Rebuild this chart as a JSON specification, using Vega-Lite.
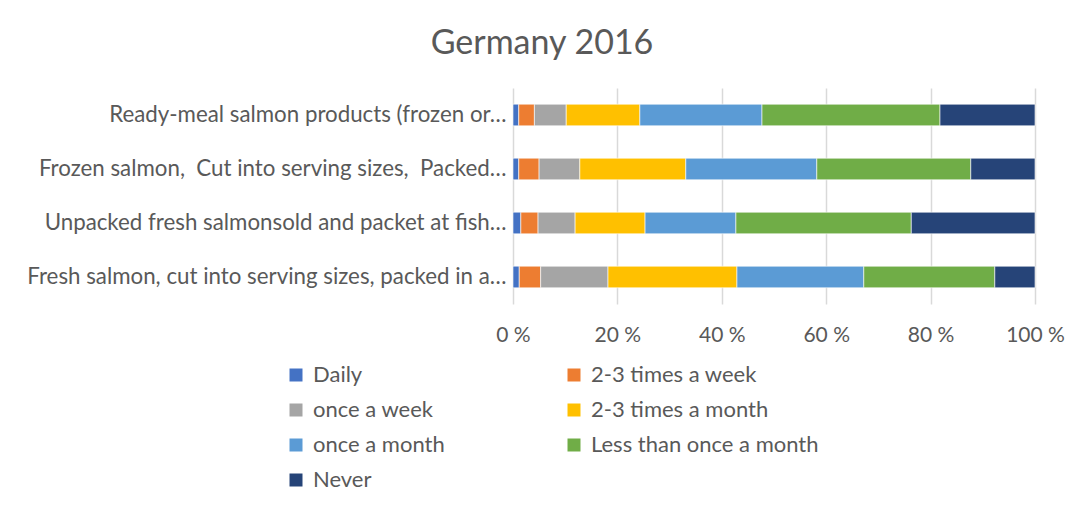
{
  "$schema": "https://vega.github.io/schema/vega-lite/v6.json",
  "autosize": {"type": "none"},
  "width": 522,
  "height": 216,
  "padding": {"left": 513, "top": 88, "right": 48, "bottom": 218},
  "background": "white",
  "title": {
    "text": "Germany 2016",
    "font": "Lato",
    "fontSize": 34,
    "fontWeight": "normal",
    "color": "#595959",
    "anchor": "middle",
    "dx": -232,
    "offset": 0,
    "baseline": "alphabetic"
  },
  "data": {
    "values": [
      {"product": "Ready-meal salmon products (frozen or…", "freq": "Daily", "k": 1, "pct": 1.1},
      {"product": "Ready-meal salmon products (frozen or…", "freq": "2-3 times a week", "k": 2, "pct": 3.0},
      {"product": "Ready-meal salmon products (frozen or…", "freq": "once a week", "k": 3, "pct": 6.1},
      {"product": "Ready-meal salmon products (frozen or…", "freq": "2-3 times a month", "k": 4, "pct": 14.1},
      {"product": "Ready-meal salmon products (frozen or…", "freq": "once a month", "k": 5, "pct": 23.4},
      {"product": "Ready-meal salmon products (frozen or…", "freq": "Less than once a month", "k": 6, "pct": 34.1},
      {"product": "Ready-meal salmon products (frozen or…", "freq": "Never", "k": 7, "pct": 18.2},
      {"product": "Frozen salmon, \u00a0Cut into serving sizes, \u00a0Packed…", "freq": "Daily", "k": 1, "pct": 1.1},
      {"product": "Frozen salmon, \u00a0Cut into serving sizes, \u00a0Packed…", "freq": "2-3 times a week", "k": 2, "pct": 3.9},
      {"product": "Frozen salmon, \u00a0Cut into serving sizes, \u00a0Packed…", "freq": "once a week", "k": 3, "pct": 7.8},
      {"product": "Frozen salmon, \u00a0Cut into serving sizes, \u00a0Packed…", "freq": "2-3 times a month", "k": 4, "pct": 20.3},
      {"product": "Frozen salmon, \u00a0Cut into serving sizes, \u00a0Packed…", "freq": "once a month", "k": 5, "pct": 25.1},
      {"product": "Frozen salmon, \u00a0Cut into serving sizes, \u00a0Packed…", "freq": "Less than once a month", "k": 6, "pct": 29.5},
      {"product": "Frozen salmon, \u00a0Cut into serving sizes, \u00a0Packed…", "freq": "Never", "k": 7, "pct": 12.3},
      {"product": "Unpacked fresh salmonsold and packet at fish…", "freq": "Daily", "k": 1, "pct": 1.5},
      {"product": "Unpacked fresh salmonsold and packet at fish…", "freq": "2-3 times a week", "k": 2, "pct": 3.3},
      {"product": "Unpacked fresh salmonsold and packet at fish…", "freq": "once a week", "k": 3, "pct": 7.1},
      {"product": "Unpacked fresh salmonsold and packet at fish…", "freq": "2-3 times a month", "k": 4, "pct": 13.4},
      {"product": "Unpacked fresh salmonsold and packet at fish…", "freq": "once a month", "k": 5, "pct": 17.4},
      {"product": "Unpacked fresh salmonsold and packet at fish…", "freq": "Less than once a month", "k": 6, "pct": 33.6},
      {"product": "Unpacked fresh salmonsold and packet at fish…", "freq": "Never", "k": 7, "pct": 23.7},
      {"product": "Fresh salmon, cut into serving sizes, packed in a…", "freq": "Daily", "k": 1, "pct": 1.2},
      {"product": "Fresh salmon, cut into serving sizes, packed in a…", "freq": "2-3 times a week", "k": 2, "pct": 4.1},
      {"product": "Fresh salmon, cut into serving sizes, packed in a…", "freq": "once a week", "k": 3, "pct": 12.9},
      {"product": "Fresh salmon, cut into serving sizes, packed in a…", "freq": "2-3 times a month", "k": 4, "pct": 24.7},
      {"product": "Fresh salmon, cut into serving sizes, packed in a…", "freq": "once a month", "k": 5, "pct": 24.3},
      {"product": "Fresh salmon, cut into serving sizes, packed in a…", "freq": "Less than once a month", "k": 6, "pct": 25.1},
      {"product": "Fresh salmon, cut into serving sizes, packed in a…", "freq": "Never", "k": 7, "pct": 7.7}
    ]
  },
  "mark": {"type": "bar", "stroke": "white", "strokeWidth": 0.6},
  "encoding": {
    "y": {
      "field": "product",
      "type": "nominal",
      "sort": null,
      "title": null,
      "scale": {"paddingInner": 0.6, "paddingOuter": 0.3},
      "axis": {
        "labelFont": "Lato",
        "labelFontSize": 22.3,
        "labelColor": "#595959",
        "labelLimit": 700,
        "labelPadding": 7,
        "ticks": false,
        "domain": false
      }
    },
    "x": {
      "field": "pct",
      "type": "quantitative",
      "stack": "normalize",
      "title": null,
      "scale": {"domain": [0, 1], "nice": false},
      "axis": {
        "values": [0, 0.2, 0.4, 0.6, 0.8, 1],
        "labelExpr": "round(datum.value*100) + ' %'",
        "labelFont": "Lato",
        "labelFontSize": 21,
        "labelColor": "#595959",
        "labelPadding": 20,
        "labelFlush": false,
        "ticks": false,
        "domain": false,
        "grid": true,
        "gridColor": "#D9D9D9",
        "gridWidth": 1.5
      }
    },
    "color": {
      "field": "freq",
      "type": "nominal",
      "sort": ["Daily", "2-3 times a week", "once a week", "2-3 times a month", "once a month", "Less than once a month", "Never"],
      "scale": {
        "domain": ["Daily", "2-3 times a week", "once a week", "2-3 times a month", "once a month", "Less than once a month", "Never"],
        "range": ["#4472C4", "#ED7D31", "#A5A5A5", "#FFC000", "#5B9BD5", "#70AD47", "#264478"]
      },
      "legend": {
        "title": null,
        "orient": "none",
        "direction": "horizontal",
        "legendX": -228,
        "legendY": 276,
        "columns": 2,
        "columnPadding": 118,
        "rowPadding": 13,
        "padding": 0,
        "symbolType": "square",
        "symbolSize": 169,
        "symbolStrokeWidth": 0,
        "labelFont": "Lato",
        "labelFontSize": 22,
        "labelColor": "#595959",
        "labelOffset": 6,
        "labelLimit": 400
      }
    },
    "order": {"field": "k", "type": "quantitative"}
  },
  "config": {"view": {"stroke": null}}
}
